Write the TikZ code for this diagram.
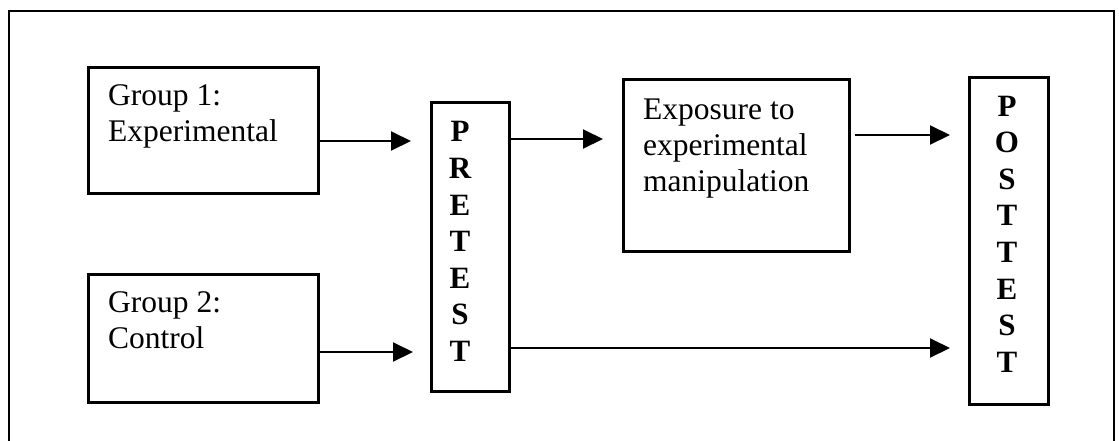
\documentclass[tikz,border=0pt]{standalone}
\usepackage{fontspec}
\setmainfont{Liberation Serif}
\usetikzlibrary{arrows.meta}
\tikzset{
  box/.style={draw, line width=2.6pt, inner sep=0pt, anchor=north west},
  lbl/.style={inner sep=0pt, anchor=north west, align=left,
              font=\fontsize{31.5}{36}\selectfont},
  stack/.style={inner sep=0pt, align=center,
              font=\fontsize{31}{36.6}\selectfont\bfseries},
  arr/.style={line width=2pt, -{Triangle[length=20pt,width=19pt]}},
  frame/.style={line width=1.4pt}
}
\begin{document}
\begin{tikzpicture}[x=1pt,y=-1pt]
\useasboundingbox (0,0) rectangle (1119,440);
% outer frame (its lower edge falls below the page)
\draw[frame] (9,450) -- (9,11) -- (1114,11) -- (1114,450);

% boxes
\node[box, minimum width=230pt, minimum height=126pt] (g1) at (87,66) {};
\node[box, minimum width=230pt, minimum height=128pt] (g2) at (87,273) {};
\node[box, minimum width=78pt,  minimum height=289pt] (pre) at (430,101) {};
\node[box, minimum width=226pt, minimum height=172pt] (exp) at (622,78) {};
\node[box, minimum width=79pt,  minimum height=327pt] (post) at (968,76) {};

% texts
\node[lbl] (g1t) at (108,84) {Group 1:\\Experimental};
\node[lbl] (g2t) at (108,291) {Group 2:\\Control};
\node[lbl] (expt) at (643,99) {Exposure to\\experimental\\manipulation};
\node[stack] (pret) at (460,241.5) {P\\R\\E\\T\\E\\S\\T};
\node[stack] (postt) at (1007,234) {P\\O\\S\\T\\T\\E\\S\\T};

% connectors
\draw[arr, shorten >=19pt] (g1.east |- 0,141) -- (pre.west |- 0,141);
\draw[arr, shorten >=17pt] (g2.east |- 0,352) -- (pre.west |- 0,352);
\draw[arr, shorten >=19pt] (pre.east |- 0,139) -- (exp.west |- 0,139);
\draw[arr, shorten <=4pt, shorten >=18pt] (exp.east |- 0,135) -- (post.west |- 0,135);
\draw[arr, shorten >=18pt] (pre.east |- 0,348) -- (post.west |- 0,348);
\end{tikzpicture}
\end{document}
